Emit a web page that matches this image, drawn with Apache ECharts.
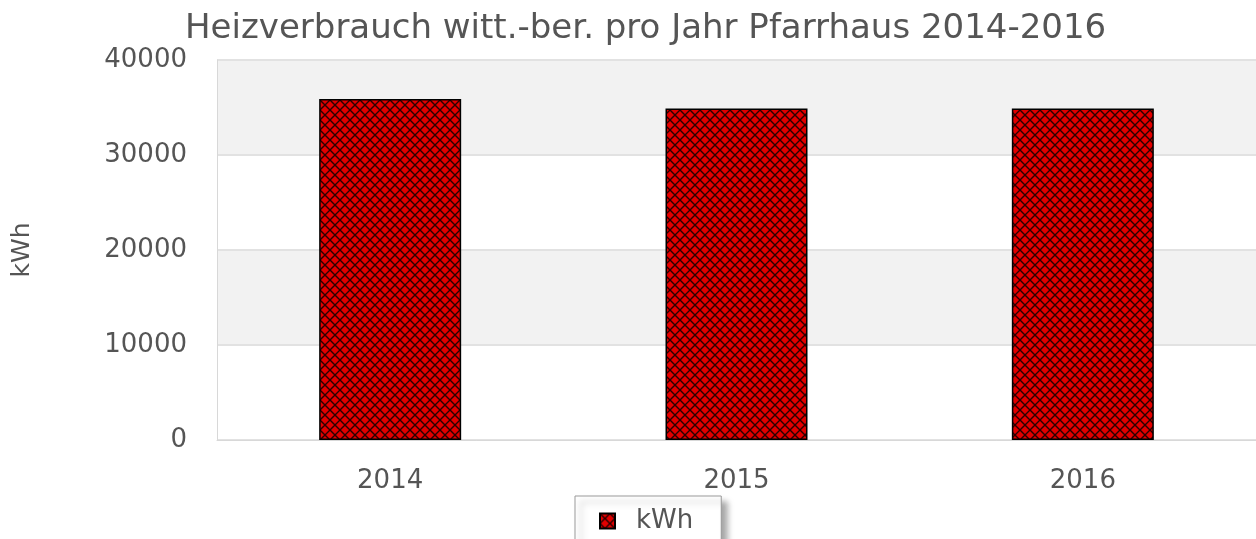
<!doctype html>
<html lang="de">
<head>
    <meta charset="UTF-8">
    <title>Heizverbrauch Pfarrhaus</title>
    <script src="https://cdn.jsdelivr.net/npm/echarts@6/dist/echarts.min.js"></script>
    <style>
        html, body { margin: 0; padding: 0; background: #fff; }
        #main { width: 1256px; height: 539px; }
    </style>
</head>
<body>
<div id="main"></div>
<script>
    // Daten
    var jahre = ['2014', '2015', '2016'];
    var verbrauch = [35900, 34900, 34900];
    var titel = 'Heizverbrauch witt.-ber. pro Jahr Pfarrhaus 2014-2016';
    var einheit = 'kWh';

    // Kreuzschraffur als Kachel
    function makeHatch() {
        var s = 10;
        var c = document.createElement('canvas');
        c.width = s; c.height = s;
        var ctx = c.getContext('2d');
        ctx.fillStyle = '#e20000';
        ctx.fillRect(0, 0, s, s);
        ctx.strokeStyle = '#2a0000';
        ctx.lineWidth = 1.4;
        for (var k = -1; k <= 1; k++) {
            ctx.beginPath();
            ctx.moveTo(k * s, 0); ctx.lineTo(k * s + s, s);
            ctx.moveTo(k * s + s, 0); ctx.lineTo(k * s, s);
            ctx.stroke();
        }
        return c;
    }
    var hatch = { image: makeHatch(), repeat: 'repeat' };

    var myChart = echarts.init(document.getElementById('main'));
    var option = {
        animation: false,
        textStyle: { fontFamily: 'DejaVu Sans' },
        title: {
            text: titel,
            left: 185,
            top: 12,
            padding: 0,
            textStyle: { fontSize: 34, fontWeight: 'normal', color: '#555', fontFamily: 'DejaVu Sans' }
        },
        legend: {
            data: [einheit],
            left: 575,
            top: 496,
            padding: [12, 28, 14, 24],
            itemWidth: 15,
            itemHeight: 15,
            backgroundColor: '#fff',
            borderColor: '#999',
            borderWidth: 1,
            shadowColor: 'rgba(0,0,0,0.35)',
            shadowBlur: 6,
            shadowOffsetX: 6,
            shadowOffsetY: 6,
            icon: 'rect',
            textStyle: { fontSize: 26, color: '#555', padding: [0, 0, 0, 16] }
        },
        grid: {
            left: 217,
            top: 60,
            bottom: 99,
            width: 1046
        },
        xAxis: {
            type: 'category',
            data: jahre,
            axisLine: { lineStyle: { color: '#d8d8d8' } },
            axisTick: { show: false },
            axisLabel: { fontSize: 26, color: '#555', margin: 28 }
        },
        yAxis: {
            type: 'value',
            min: 0,
            max: 40000,
            interval: 10000,
            name: einheit,
            nameLocation: 'middle',
            nameGap: 182,
            nameTextStyle: { fontSize: 25, color: '#555' },
            axisLine: { show: true, lineStyle: { color: '#d8d8d8' } },
            axisTick: { show: false },
            axisLabel: {
                fontSize: 26, color: '#555', margin: 30, padding: [9, 0, 0, 0],
                formatter: function (v) { return String(v); }
            },
            splitLine: { lineStyle: { color: '#e2e2e2', width: 2 } },
            splitArea: { show: true, areaStyle: { color: ['#ffffff', '#f2f2f2'] } }
        },
        series: [
            {
                name: einheit,
                type: 'bar',
                barWidth: 142,
                data: verbrauch,
                itemStyle: { color: hatch, borderColor: '#000', borderWidth: 1.5 }
            }
        ]
    };
    myChart.setOption(option);
</script>
</body>
</html>
